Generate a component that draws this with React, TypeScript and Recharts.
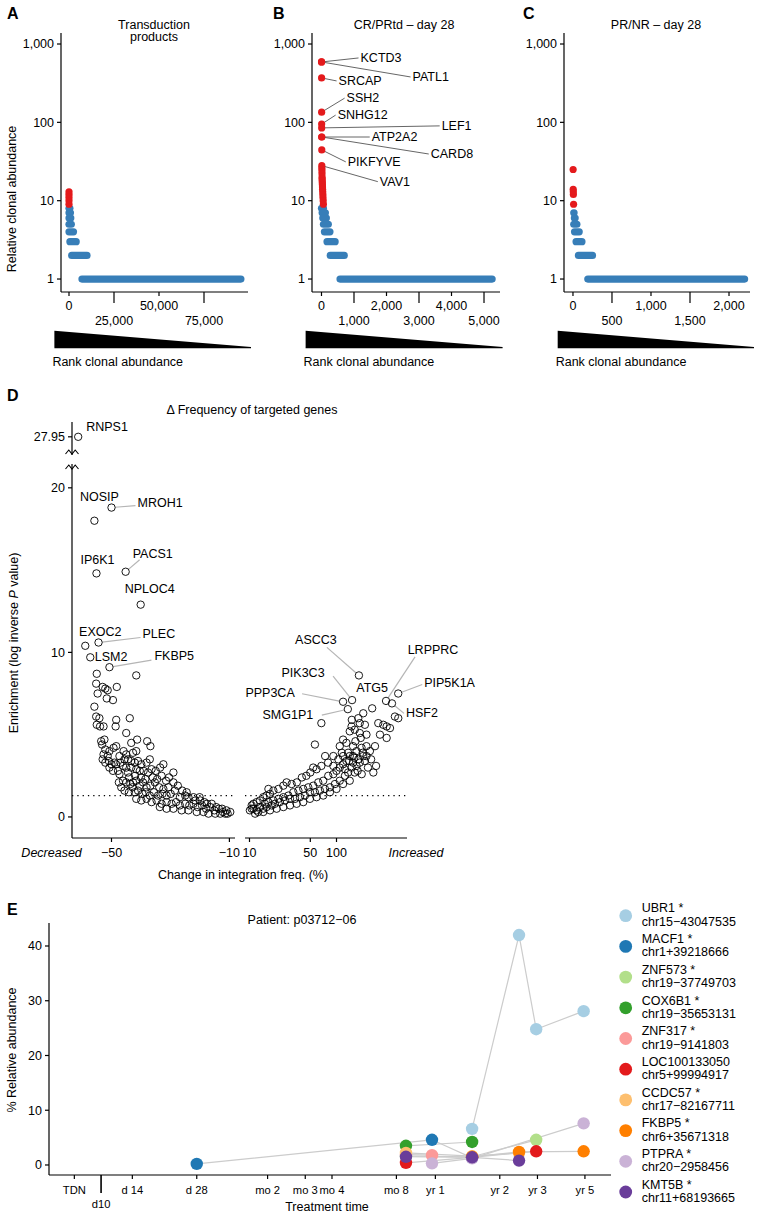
import React from 'react';
import { ScatterChart, Scatter, XAxis, YAxis, ReferenceLine } from 'recharts';

const FONT = '"Liberation Sans", Arial, Helvetica, sans-serif';
const RED = '#e41a1c';
const BLUE = '#377eb8';
const INK = '#000000';
const FS = 12.5;

/* ---------- A-C: relative clonal abundance by rank ---------- */
const abundanceTicks = [1, 10, 100, 1000];

// A: transduction products
const aRankTicks = [0, 25000, 50000, 75000];
const aRedRanks = [0, 0, 0, 0, 0];
const aRedValues = [13, 12, 11, 10, 9];
// [abundance, first rank, last rank]
const aBlueRuns = [[8, 0, 500], [7, 0, 800], [6, 0, 1000], [5, 0, 1300], [4, 0, 2500], [3, 500, 4000], [2, 1500, 10000], [1, 7200, 95500]];

// B: CR/PRtd - day 28
const bRankTicks = [0, 1000, 2000, 3000, 4000, 5000];
const bGenes = ['KCTD3', 'PATL1', 'SRCAP', 'SSH2', 'SNHG12', 'LEF1', 'ATP2A2', 'CARD8', 'PIKFYVE', 'VAV1'];
const bGeneRanks = [1, 2, 3, 4, 5, 6, 7, 8, 9, 10];
const bGeneValues = [590, 590, 369, 135, 95, 85, 65, 65, 44.5, 28];
const bRedRanks = [12, 14, 16, 18, 20, 22, 25, 28, 31, 34, 38, 42, 46, 52, 58];
const bRedValues = [26, 24, 22, 20, 19, 18, 17, 16, 15, 14, 13, 12, 11, 10, 9];
const bBlueRuns = [[8, 0, 60], [7, 20, 120], [6, 40, 150], [5, 60, 210], [4, 90, 260], [3, 170, 420], [2, 270, 700], [1, 570, 5250]];

// C: PR/NR - day 28
const cRankTicks = [0, 500, 1000, 1500, 2000];
const cRedRanks = [2, 3, 4, 5, 8];
const cRedValues = [25, 14, 13, 12, 9];
const cBlueRuns = [[7, 10, 14], [6, 18, 28], [5, 10, 50], [4, 20, 80], [3, 40, 115], [2, 70, 250], [1, 190, 2200]];

// label offsets (px) from each gene's dot
const bLabelOffset: Record<string, [number, number]> = {
  KCTD3: [39, -4], PATL1: [91, 15], SRCAP: [17, 3], SSH2: [25, -14], SNHG12: [16, -9],
  LEF1: [120, -2], ATP2A2: [50, 0], CARD8: [109, 17], PIKFYVE: [26, 12], VAV1: [58, 16],
};

/* ---------- D: change in integration frequency ---------- */
const BREAK_GAP = 4.85; // values above the axis break are shifted down by this
const brk = (v: number) => (v > 21 ? v - BREAK_GAP : v);

const dLeftGenes: [string, number, number][] = [
  ['RNPS1', -61.3, 27.95], ['NOSIP', -55.8, 18.0], ['MROH1', -50.0, 18.8], ['IP6K1', -55.1, 14.8],
  ['PACS1', -45.2, 14.9], ['NPLOC4', -40.1, 12.9], ['EXOC2', -58.9, 10.4], ['PLEC', -54.4, 10.6],
  ['LSM2', -57.2, 9.7], ['FKBP5', -50.7, 9.1],
];
const dRightGenes: [string, number, number][] = [
  ['ASCC3', 181, 8.6], ['PIK3C3', 151, 7.1], ['PPP3CA', 119, 7.0], ['SMG1P1', 135, 6.55],
  ['ATG5', 257, 6.6], ['LRPPRC', 371, 7.05], ['HSF2', 434, 6.9], ['PIP5K1A', 512, 7.5],
];
const dLeftPoints = [
  [-55.0, 8.7], [-41.6, 8.6], [-55.2, 8.1], [-53.0, 7.9], [-52.1, 7.8], [-51.3, 7.7], [-48.2, 7.9], [-54.7, 7.5],
  [-51.6, 7.2], [-49.5, 7.1], [-55.8, 6.7], [-55.2, 6.1], [-54.1, 6.0], [-55.0, 5.6], [-53.9, 5.5], [-52.7, 5.5],
  [-48.4, 5.9], [-48.6, 5.5], [-43.8, 6.0], [-45.0, 5.1], [-53.5, 4.6], [-52.4, 4.7], [-53.2, 4.4], [-52.1, 4.1],
  [-50.7, 4.0], [-49.3, 4.2], [-48.4, 4.3], [-41.3, 4.7], [-37.9, 4.6], [-36.8, 4.3], [-43.3, 4.5], [-42.7, 3.9],
  [-41.6, 4.0], [-45.9, 4.0], [-45.0, 3.8], [-52.7, 3.8], [-51.3, 3.7], [-47.3, 3.7],
  [-53.0, 3.5], [-52.1, 3.3], [-50.9, 3.4], [-50.0, 3.2], [-49.0, 3.3], [-48.4, 3.2], [-47.0, 3.3], [-45.6, 3.5],
  [-44.4, 3.5], [-43.3, 3.4], [-42.1, 3.3], [-41.0, 3.4], [-39.9, 3.2], [-38.1, 3.3], [-37.0, 3.5], [-50.7, 3.0],
  [-49.5, 2.8], [-47.8, 2.8], [-46.1, 3.1], [-45.0, 3.0], [-43.3, 3.0], [-41.6, 2.9], [-40.4, 2.8], [-39.1, 2.8],
  [-37.6, 2.7], [-36.4, 2.9], [-32.4, 3.2], [-29.0, 2.7], [-47.3, 2.6], [-44.4, 2.7],
  [-44.0, 2.4], [-42.0, 2.5], [-40.0, 2.4], [-38.5, 2.3], [-36.0, 2.4], [-34.5, 2.3], [-33.0, 2.5], [-31.5, 2.2],
  [-30.5, 2.4], [-35.0, 2.8], [-33.5, 3.0],
  [-47.5, 2.1], [-46.1, 2.2], [-45.0, 2.1], [-43.6, 2.0], [-42.7, 2.1], [-41.6, 2.2], [-40.4, 1.9], [-39.3, 2.1],
  [-38.1, 1.8], [-36.8, 1.9], [-35.3, 2.1], [-33.8, 1.8], [-32.4, 1.7], [-30.7, 1.8], [-29.0, 2.1], [-28.5, 1.6],
  [-46.7, 1.8], [-45.6, 1.6], [-44.1, 1.5], [-42.9, 1.8], [-42.1, 1.5], [-41.0, 1.6], [-39.5, 1.4], [-38.4, 1.5],
  [-37.0, 1.3], [-35.6, 1.5], [-34.2, 1.3], [-32.7, 1.4], [-31.3, 1.3], [-29.9, 1.4], [-26.8, 1.2], [-25.0, 1.3],
  [-23.9, 1.2], [-22.2, 1.2], [-20.1, 1.2], [-27.5, 1.9], [-26.0, 1.6], [-24.5, 1.5],
  [-41.6, 1.1], [-39.9, 1.0], [-38.1, 1.1], [-36.4, 0.9], [-34.7, 1.0], [-33.0, 0.8], [-31.3, 0.9], [-29.6, 0.8],
  [-28.1, 0.9], [-26.8, 0.7], [-25.0, 0.8], [-23.6, 0.7], [-22.2, 0.8], [-20.8, 0.6], [-19.3, 0.7], [-17.9, 0.5],
  [-16.5, 0.6], [-15.1, 0.4], [-13.6, 0.5], [-13.1, 0.2], [-12.2, 0.3], [-11.4, 0.2], [-10.6, 0.2], [-9.7, 0.3],
  [-33.6, 0.6], [-31.3, 0.5], [-29.0, 0.5], [-26.2, 0.4], [-23.9, 0.4], [-21.1, 0.3], [-18.8, 0.3], [-17.1, 0.2],
  [-14.8, 0.2], [-19.9, 1.0], [-17.6, 0.8], [-21.5, 1.0], [-18.5, 0.9], [-16.0, 0.8], [-14.5, 0.6], [-12.5, 0.5],
  [-11.0, 0.4],
];
const dRightPoints = [
  [67, 5.7], [203, 6.3], [178, 6.0], [185, 5.7], [212, 5.6], [221, 5.0], [185, 5.1], [162, 5.3], [149, 5.5],
  [142, 5.2], [119, 4.7], [109, 4.3], [130, 4.5], [155, 4.3], [170, 4.0], [194, 4.2], [221, 4.3], [203, 3.7],
  [178, 3.5], [155, 3.7], [136, 3.9], [119, 3.7], [105, 3.5], [92, 3.7], [92, 3.1], [80, 3.3], [74, 3.7],
  [67, 3.1], [59, 2.9], [54, 3.0], [50, 2.7], [45, 2.5], [40, 2.4], [35, 2.1], [30.5, 2.0], [26.7, 2.1],
  [24.5, 1.9], [21.5, 1.7], [18.8, 1.6], [17.2, 1.4], [15.7, 1.3], [14.4, 1.2], [13.2, 1.0], [12.1, 0.9],
  [11.1, 0.8], [10.6, 0.7], [11.1, 0.5], [12.1, 0.4], [13.2, 0.6], [15.0, 0.8], [16.5, 0.9], [18.8, 1.0],
  [21.5, 1.1], [24.5, 1.2], [28, 1.3], [31.9, 1.5], [36.5, 1.6], [41.5, 1.7], [47.4, 1.8], [54.1, 1.9],
  [61.7, 2.1], [70.4, 2.2], [80.4, 2.5], [92, 2.6], [100, 2.8], [109, 3.0], [119, 3.2], [130, 3.4], [142, 3.7],
  [302, 5.7], [345, 5.6], [377, 5.5], [316, 5.0], [377, 4.8], [277, 4.3], [242, 4.0], [212, 3.4], [185, 3.3],
  [221, 3.7], [469, 6.1], [513, 6.0], [412, 5.4], [56.5, 4.4], [16.5, 1.7],
  [10.1, 0.4], [11.6, 0.2], [12.6, 0.3], [14.4, 0.5], [10.6, 0.5], [15.7, 0.6], [18, 0.7], [19.6, 0.8],
  [22.4, 0.9], [25.6, 1.0], [29.2, 1.1], [33.4, 1.1], [38, 1.2], [43.4, 1.3], [49.5, 1.5], [56.5, 1.5],
  [64.5, 1.6], [73.6, 1.7], [84, 1.8], [95.9, 2.0], [109, 2.2], [125, 2.5], [136, 2.7], [149, 3.0], [155, 3.3],
  [170, 3.1], [162, 2.7], [142, 2.2], [119, 2.0], [100, 1.7], [84, 1.5], [70.4, 1.3], [59, 1.2], [49.5, 1.1],
  [41.5, 0.9], [34.8, 0.8], [29.2, 0.7], [24.5, 0.6], [20.5, 0.5], [17.2, 0.4], [14.4, 0.3],
  [150, 5.9], [165, 4.6], [190, 4.8], [200, 3.9], [115, 3.9], [125, 2.9], [140, 3.4], [160, 3.6], [175, 2.8],
  [195, 2.6], [265, 2.7], [285, 3.1], [230, 3.0], [250, 3.5],
];

// label placement: text offset, anchor, optional leader end (px from dot)
const dLabelPlace: Record<string, { dx: number; dy: number; anchor: 'start' | 'middle'; lead?: [number, number] }> = {
  RNPS1: { dx: 8, dy: -10, anchor: 'start' },
  NOSIP: { dx: 5, dy: -24, anchor: 'middle' },
  MROH1: { dx: 26, dy: -5, anchor: 'start', lead: [24, -2] },
  IP6K1: { dx: 1, dy: -13, anchor: 'middle' },
  PACS1: { dx: 7, dy: -18, anchor: 'start', lead: [14, -12] },
  NPLOC4: { dx: 9, dy: -16, anchor: 'middle' },
  EXOC2: { dx: 15, dy: -14, anchor: 'middle' },
  PLEC: { dx: 44, dy: -9, anchor: 'start', lead: [42, -5] },
  LSM2: { dx: 4.5, dy: 0, anchor: 'start' },
  FKBP5: { dx: 45, dy: -11, anchor: 'start', lead: [42, -7] },
  ASCC3: { dx: -43, dy: -35, anchor: 'middle', lead: [-32, -28] },
  PIK3C3: { dx: -49, dy: -27, anchor: 'middle', lead: [-19, -24] },
  PPP3CA: { dx: -73, dy: -9, anchor: 'middle', lead: [-41, -8] },
  SMG1P1: { dx: -60, dy: 6, anchor: 'middle', lead: [-26, 6] },
  ATG5: { dx: 0, dy: -20, anchor: 'middle' },
  LRPPRC: { dx: 47, dy: -51, anchor: 'middle', lead: [29, -44] },
  PIP5K1A: { dx: 26, dy: -11, anchor: 'start', lead: [24, -9] },
  HSF2: { dx: 14, dy: 10, anchor: 'start', lead: [12, 10] },
};

/* ---------- E: clone tracking, patient p03712-06 ---------- */
const eTickDays = [7.5, 10, 14, 28, 60, 90, 120, 240, 365, 730, 1095, 1825];
const eTickLabels = ['TDN', 'd10', 'd 14', 'd 28', 'mo 2', 'mo 3', 'mo 4', 'mo 8', 'yr 1', 'yr 2', 'yr 3', 'yr 5'];
const eAbundanceTicks = [0, 10, 20, 30, 40];

const cloneGenes = ['UBR1 *', 'MACF1 *', 'ZNF573 *', 'COX6B1 *', 'ZNF317 *', 'LOC100133050', 'CCDC57 *', 'FKBP5 *', 'PTPRA *', 'KMT5B *'];
const cloneLoci = ['chr15\u221243047535', 'chr1+39218666', 'chr19\u221237749703', 'chr19\u221235653131', 'chr19\u22129141803', 'chr5+99994917', 'chr17\u221282167711', 'chr6+35671318', 'chr20\u22122958456', 'chr11+68193665'];
const cloneColors = ['#a6cee3', '#1f78b4', '#b2df8a', '#33a02c', '#fb9a99', '#e31a1c', '#fdbf6f', '#ff7f00', '#cab2d6', '#6a3d9a'];
const cloneDays = [
  [542, 898, 1080, 1800],
  [28, 352, 542],
  [266, 542, 1080],
  [266, 542],
  [266, 352],
  [266, 542, 1080],
  [266, 542, 898],
  [542, 898, 1800],
  [352, 542, 1800],
  [266, 542, 898],
];
const cloneAbundance = [
  [6.6, 42.0, 24.8, 28.1],
  [0.2, 4.6, 1.3],
  [1.6, 1.5, 4.6],
  [3.5, 4.2],
  [1.9, 1.8],
  [0.4, 1.4, 2.5],
  [2.2, 1.6, 2.2],
  [1.5, 2.4, 2.5],
  [0.3, 1.2, 7.6],
  [1.5, 1.4, 0.8],
];

/* ---------- shared bits ---------- */
const axisLine = { stroke: INK, strokeWidth: 1.2 };
const tickStyle = { fill: INK, fontSize: FS };
const minus = (v: number) => (v < 0 ? '\u2212' + Math.abs(v) : String(v));

const StaggerTick = (p: any) => {
  const low = p.index % 2 === 1;
  return (
    <g>
      <line x1={p.x} x2={p.x} y1={p.y} y2={p.y + (low ? 11 : 4)} stroke={INK} strokeWidth={1.2} />
      <text x={p.x} y={p.y + (low ? 29 : 14)} textAnchor="middle" dominantBaseline="central" fontSize={FS} fill={INK}>
        {Number(p.payload.value).toLocaleString('en-US')}
      </text>
    </g>
  );
};

const RedDot = (p: any) => <circle cx={p.cx} cy={p.cy} r={3.6} fill={RED} />;

const BGeneDot = (p: any) => {
  const [dx, dy] = bLabelOffset[p.payload.gene];
  return (
    <g>
      <line x1={p.cx} y1={p.cy} x2={p.cx + dx - 2} y2={p.cy + dy} stroke="#555" strokeWidth={0.9} />
      <circle cx={p.cx} cy={p.cy} r={3.6} fill={RED} />
      <text x={p.cx + dx} y={p.cy + dy} dominantBaseline="central" fontSize={FS} fill={INK}>{p.payload.gene}</text>
    </g>
  );
};

const RankPanel = (props: any) => {
  const { left, width, right, domain, ticks, runs, red, genes } = props;
  return (
    <div style={{ position: 'absolute', left, top: 0 }}>
      <ScatterChart width={width} height={340} margin={{ top: 33, right, left: 0, bottom: 0 }}>
        <XAxis type="number" dataKey="x" domain={domain} ticks={ticks} interval={0} height={48}
          axisLine={axisLine} tickLine={false} tickSize={0} tickMargin={0}
          tick={(t: any) => <StaggerTick {...t} />} />
        <YAxis type="number" dataKey="y" scale="log" domain={[0.683, 1382]} ticks={abundanceTicks} interval={0}
          width={left === 0 ? 61 : 60} axisLine={axisLine} tickLine={{ stroke: INK, strokeWidth: 1.2 }}
          tickSize={4} tickMargin={3} tick={tickStyle} tickFormatter={(v: number) => v.toLocaleString('en-US')} />
        {runs.map((r: number[], i: number) => (
          <ReferenceLine key={i} segment={[{ x: r[1], y: r[0] }, { x: r[2], y: r[0] }]}
            stroke={BLUE} strokeWidth={7.2} strokeLinecap="round" />
        ))}
        <Scatter data={red} isAnimationActive={false} shape={RedDot} />
        {genes ? <Scatter data={genes} isAnimationActive={false} shape={BGeneDot} /> : null}
      </ScatterChart>
    </div>
  );
};

const Ring = (p: any) => <circle cx={p.cx} cy={p.cy} r={3.7} fill="none" stroke={INK} strokeWidth={0.9} />;

const LabeledRing = (p: any) => {
  const pl = dLabelPlace[p.payload.gene];
  let lead = null;
  if (pl.lead) {
    const [lx, ly] = pl.lead;
    const len = Math.hypot(lx, ly);
    lead = <line x1={p.cx + (lx / len) * 3.7} y1={p.cy + (ly / len) * 3.7} x2={p.cx + lx} y2={p.cy + ly} stroke="#b5b5b5" strokeWidth={1.2} />;
  }
  return (
    <g>
      {lead}
      <circle cx={p.cx} cy={p.cy} r={3.7} fill="none" stroke={INK} strokeWidth={0.9} />
      <text x={p.cx + pl.dx} y={p.cy + pl.dy} textAnchor={pl.anchor} dominantBaseline="central" fontSize={FS} fill={INK}>
        {p.payload.gene}
      </text>
    </g>
  );
};

const TimeTick = (p: any) => {
  const label = eTickLabels[eTickDays.indexOf(p.payload.value)];
  const long = label === 'd10';
  return (
    <g>
      <line x1={p.x} x2={p.x} y1={p.y} y2={p.y + (long ? 18 : 4)} stroke={INK} strokeWidth={long ? 1.6 : 1.2} />
      <text x={p.x} y={p.y + (long ? 29 : 15)} textAnchor="middle" dominantBaseline="central" fontSize={11.2} fill={INK}>{label}</text>
    </g>
  );
};

const EDot = (color: string) => (p: any) => <circle cx={p.cx} cy={p.cy} r={6.2} fill={color} />;

const Wedge = ({ l, r }: { l: number; r: number }) => (
  <>
    <polygon points={`${l},330.7 ${r},347 ${r},348.3 ${l},348.3`} fill={INK} />
    <text x={l - 2} y={361.7} dominantBaseline="central" fontSize={FS}>Rank clonal abundance</text>
  </>
);

const Overlay = () => (
  <svg width={761} height={1216} style={{ position: 'absolute', left: 0, top: 0, pointerEvents: 'none' }} fontFamily={FONT} fill={INK}>
    <g fontWeight="bold" fontSize={16}>
      <text x={7} y={18.5}>A</text>
      <text x={273} y={18.5}>B</text>
      <text x={523} y={18.5}>C</text>
      <text x={7} y={401}>D</text>
      <text x={7} y={915}>E</text>
    </g>
    <g fontSize={FS} textAnchor="middle" dominantBaseline="central">
      <text x={154} y={25}>Transduction</text>
      <text x={154} y={37.3}>products</text>
      <text x={404} y={24.5}>CR/PRtd – day 28</text>
      <text x={656} y={24.5}>PR/NR – day 28</text>
      <text transform="translate(12.3,199) rotate(-90)">Relative clonal abundance</text>
      <text x={252} y={410}>Δ Frequency of targeted genes</text>
      <text transform="translate(14,643) rotate(-90)">
        Enrichment (log inverse <tspan fontStyle="italic">P</tspan> value)
      </text>
      <text x={51.6} y={853} fontStyle="italic">Decreased</text>
      <text x={416} y={853} fontStyle="italic">Increased</text>
      <text x={243} y={875}>Change in integration freq. (%)</text>
      <text x={302} y={920}>Patient: p03712−06</text>
      <text transform="translate(12.3,1050) rotate(-90)">% Relative abundance</text>
      <text x={327} y={1207}>Treatment time</text>
    </g>
    <g textAnchor="start">
      <Wedge l={54.4} r={251} />
      <Wedge l={305.6} r={502.6} />
      <Wedge l={557.7} r={754} />
    </g>
    {/* axis break on D */}
    <rect x={65} y={455} width={14} height={9} fill="#fff" />
    <path d="M65.5,454 L68.8,450 L72,454 L75.2,450 L78.5,454" fill="none" stroke={INK} strokeWidth={1.1} />
    <path d="M65.5,469 L68.8,465 L72,469 L75.2,465 L78.5,469" fill="none" stroke={INK} strokeWidth={1.1} />
    {/* E legend */}
    {cloneGenes.map((g, i) => (
      <g key={g}>
        <circle cx={625.7} cy={915.7 + i * 30.7} r={6.4} fill={cloneColors[i]} />
        <text x={641.7} y={908.4 + i * 30.7} fontSize={FS} dominantBaseline="central">{g}</text>
        <text x={641.7} y={921.7 + i * 30.7} fontSize={FS} dominantBaseline="central">{cloneLoci[i]}</text>
      </g>
    ))}
  </svg>
);

export default function App() {
  const aRed = aRedValues.map((v, i) => ({ x: aRedRanks[i], y: v }));
  const bRed = bRedValues.map((v, i) => ({ x: bRedRanks[i], y: v }));
  const bGeneData = bGenes.map((g, i) => ({ gene: g, x: bGeneRanks[i], y: bGeneValues[i] }));
  const cRed = cRedValues.map((v, i) => ({ x: cRedRanks[i], y: v }));

  const dLeft = dLeftPoints.map(([x, y]) => ({ x, y: brk(y) }));
  const dRight = dRightPoints.map(([x, y]) => ({ x, y: brk(y) }));
  const dLeftLab = dLeftGenes.map(([gene, x, y]) => ({ gene, x, y: brk(y) }));
  const dRightLab = dRightGenes.map(([gene, x, y]) => ({ gene, x, y: brk(y) }));

  const clones = cloneGenes.map((g, i) => ({
    gene: g,
    color: cloneColors[i],
    data: cloneDays[i].map((t, j) => ({ t, v: cloneAbundance[i][j] })),
  }));

  return (
    <div style={{ position: 'absolute', left: 0, top: 0, width: 761, height: 1216, background: '#fff', fontFamily: FONT }}>
      <RankPanel left={0} width={260} right={12} domain={[-4444, 99444]} ticks={aRankTicks} runs={aBlueRuns} red={aRed} />
      <RankPanel left={252} width={260} right={12} domain={[-292, 5492]} ticks={bRankTicks} runs={bBlueRuns} red={bRed} genes={bGeneData} />
      <RankPanel left={504} width={257} right={11} domain={[-115, 2269]} ticks={cRankTicks} runs={cBlueRuns} red={cRed} />

      <div style={{ position: 'absolute', left: 0, top: 400 }}>
        <ScatterChart width={240} height={480} margin={{ top: 22, right: 5, left: 0, bottom: 0 }}>
          <XAxis type="number" dataKey="x" domain={[-63.4, -8.1]} ticks={[-50, -10]} interval={0} height={42}
            axisLine={axisLine} tickLine={{ stroke: INK, strokeWidth: 1.2 }} tickSize={4} tickMargin={6}
            tick={tickStyle} tickFormatter={minus} />
          <YAxis type="number" dataKey="y" domain={[-1.28, 24.0]} ticks={[0, 10, 20, brk(27.95)]} interval={0} width={72}
            axisLine={axisLine} tickLine={{ stroke: INK, strokeWidth: 1.2 }} tickSize={4} tickMargin={3}
            tick={tickStyle} tickFormatter={(v: number) => (v > 21 ? '27.95' : String(v))} />
          <ReferenceLine y={1.3} stroke={INK} strokeWidth={1.3} strokeDasharray="1.3 4" />
          <Scatter data={dLeft} isAnimationActive={false} shape={Ring} />
          <Scatter data={dLeftLab} isAnimationActive={false} shape={LabeledRing} />
        </ScatterChart>
      </div>
      <div style={{ position: 'absolute', left: 240, top: 400 }}>
        <ScatterChart width={300} height={480} margin={{ top: 22, right: 133, left: 5, bottom: 0 }}>
          <XAxis type="number" dataKey="x" scale="log" domain={[8.88, 646]} ticks={[10, 50, 100]} interval={0} height={42}
            axisLine={axisLine} tickLine={{ stroke: INK, strokeWidth: 1.2 }} tickSize={4} tickMargin={6}
            tick={tickStyle} />
          <YAxis type="number" dataKey="y" domain={[-1.28, 24.0]} hide />
          <ReferenceLine y={1.3} stroke={INK} strokeWidth={1.3} strokeDasharray="1.3 4" />
          <Scatter data={dRight} isAnimationActive={false} shape={Ring} />
          <Scatter data={dRightLab} isAnimationActive={false} shape={LabeledRing} />
        </ScatterChart>
      </div>

      <div style={{ position: 'absolute', left: 0, top: 900 }}>
        <ScatterChart width={620} height={316} margin={{ top: 23, right: 9, left: 0, bottom: 0 }}>
          <XAxis type="number" dataKey="t" scale="log" domain={[5.71, 2416]} ticks={eTickDays} interval={0} height={41}
            axisLine={axisLine} tickLine={false} tickSize={0} tickMargin={0} tick={(t: any) => <TimeTick {...t} />} />
          <YAxis type="number" dataKey="v" domain={[-1.83, 44.2]} ticks={eAbundanceTicks} interval={0} width={49}
            axisLine={axisLine} tickLine={{ stroke: INK, strokeWidth: 1.2 }} tickSize={4} tickMargin={3} tick={tickStyle} />
          {clones.map((c) => (
            <Scatter key={'l' + c.gene} data={c.data} isAnimationActive={false}
              line={{ stroke: '#cccccc', strokeWidth: 1.2 }} shape={() => <g />} />
          ))}
          {clones.map((c) => (
            <Scatter key={'p' + c.gene} data={c.data} isAnimationActive={false} shape={EDot(c.color)} />
          ))}
        </ScatterChart>
      </div>

      <Overlay />
    </div>
  );
}
